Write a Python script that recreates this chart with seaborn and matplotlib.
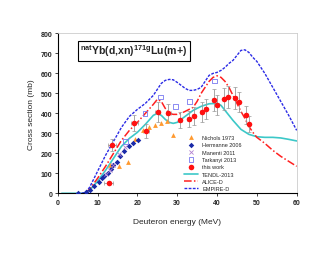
import numpy as np
import pandas as pd
import matplotlib
matplotlib.use("Agg")
import matplotlib.pyplot as plt
import seaborn as sns

# Experimentelle Daten
nich_e = [13.1, 15.5, 17.7, 19.5, 21.5, 23.0, 24.5, 26.0, 27.5, 29.0]
nich_s = [143, 135, 155, 270, 315, 330, 340, 350, 360, 290]

herm_e = [5.0, 7.1, 8.1, 9.1, 10.3, 11.0, 11.7, 12.5, 13.3, 14.0, 14.8, 15.6, 16.7, 17.8, 19.0, 20.1]
herm_s = [0, 5, 18, 37, 58, 75, 88, 103, 122, 143, 158, 185, 210, 238, 252, 268]

man_e = [12.0, 13.0, 14.0, 15.3, 16.8]
man_s = [95, 118, 140, 195, 232]

tark_e = [17.0, 21.9, 25.9, 29.6, 33.0, 39.3]
tark_s = [258, 398, 482, 433, 460, 562]

work_e = [12.8, 13.7, 19.2, 22.1, 25.1, 27.8, 30.7, 32.9, 34.1, 36.1, 37.2, 39.2, 40.1, 41.8, 42.8, 44.6, 45.5, 47.2, 48.1]
work_s = [53, 240, 350, 310, 408, 400, 367, 372, 385, 408, 420, 465, 442, 472, 482, 477, 455, 393, 348]
work_ds = [5, 30, 40, 35, 50, 45, 40, 40, 45, 50, 50, 55, 50, 55, 55, 55, 50, 45, 40]
work_de = [1.2, 1.0, 0.9, 0.8, 0.7, 0.6, 0.6, 0.5, 0.5, 0.5, 0.4, 0.4, 0.4, 0.3, 0.3, 0.3, 0.3, 0.3, 0.3]

# Modellrechnungen
tendl_e = [1, 6, 7, 8, 10, 12, 14, 16, 18, 20, 22, 24, 25, 26, 27, 28, 29, 30, 32, 34, 36, 38, 40, 41, 42, 44, 46, 48, 50, 52, 54, 56, 58, 60]
tendl_s = [0, 0, 3, 15, 60, 115, 175, 235, 275, 305, 345, 390, 400, 390, 370, 355, 350, 355, 385, 415, 435, 448, 450, 440, 415, 365, 320, 295, 283, 280, 280, 277, 270, 262]

alice_e = [7, 8, 10, 12, 14, 16, 18, 20, 22, 24, 25, 26, 27, 28, 29, 30, 31, 32, 34, 35, 36, 37, 38, 39, 40, 41, 42, 43, 44, 45, 46, 47, 48, 49, 50, 52, 54, 56, 58, 60]
alice_s = [3, 20, 75, 135, 200, 265, 315, 355, 400, 445, 470, 460, 425, 400, 395, 395, 400, 410, 430, 460, 500, 530, 560, 580, 588, 580, 560, 530, 490, 450, 410, 375, 335, 305, 280, 250, 215, 185, 160, 135]

emp_e = [6, 7, 8, 10, 12, 14, 16, 18, 20, 22, 24, 25, 26, 27, 28, 29, 30, 31, 32, 33, 34, 35, 36, 37, 38, 39, 40, 41, 42, 43, 44, 45, 46, 47, 48, 49, 50, 52, 54, 56, 58, 60]
emp_s = [0, 5, 30, 110, 190, 260, 330, 385, 420, 450, 490, 520, 550, 565, 570, 568, 555, 540, 525, 515, 515, 520, 530, 560, 590, 600, 605, 615, 630, 650, 665, 690, 715, 718, 705, 680, 660, 600, 530, 460, 390, 315]

sns.set_style("white")
plt.rcParams['font.family'] = ['Liberation Sans', 'DejaVu Sans']
plt.rcParams['mathtext.fontset'] = 'custom'
plt.rcParams['mathtext.rm'] = 'Liberation Sans:bold'

fig = plt.figure(figsize=(3.3, 2.55), dpi=100)
ax = fig.add_axes([0.175, 0.238, 0.724, 0.627])

sns.lineplot(x=tendl_e, y=tendl_s, ax=ax, color="#3cc8c8", lw=1.2, label="TENDL-2013")
sns.lineplot(x=alice_e, y=alice_s, ax=ax, color="#ff2020", lw=1.1, label="ALICE-D")
ax.lines[-1].set_dashes([5, 1.5, 1, 1.5])
sns.lineplot(x=emp_e, y=emp_s, ax=ax, color="#2a2ae6", lw=1.0, label="EMPIRE-D")
ax.lines[-1].set_dashes([2, 1])

ax.errorbar(work_e, work_s, yerr=work_ds, xerr=work_de, fmt="none",
            ecolor="#999999", elinewidth=0.6, capsize=1.2, capthick=0.5, zorder=3)

sns.scatterplot(x=nich_e, y=nich_s, ax=ax, marker="^", color="#ff9a30", s=12, linewidth=0, label="Nichols 1973", zorder=4)
sns.scatterplot(x=herm_e, y=herm_s, ax=ax, marker="D", color="#1a2aa8", s=8, linewidth=0, label="Hermanne 2006", zorder=4)
sns.scatterplot(x=man_e, y=man_s, ax=ax, marker="x", color="#b080d0", s=9, linewidth=0.6, label="Manenti 2011", zorder=4)
sns.scatterplot(x=tark_e, y=tark_s, ax=ax, marker="s", facecolor="none", edgecolor="#7878f0", s=12, linewidth=0.6, label="Tarkanyi 2013", zorder=4)
sns.scatterplot(x=work_e, y=work_s, ax=ax, marker="o", color="#ff1010", s=16, linewidth=0, label="this work", zorder=5)

ax.set_xlim(0, 60)
ax.set_ylim(0, 800)
ax.set_xticks(np.arange(0, 61, 10))
ax.set_yticks(np.arange(0, 801, 100))
ax.tick_params(labelsize=5, length=2, width=0.6, pad=2, direction="out", bottom=True, left=True)
for lbl in ax.get_xticklabels() + ax.get_yticklabels():
    lbl.set_fontweight("bold")

for s in ["left", "bottom"]:
    ax.spines[s].set_color("black")
    ax.spines[s].set_linewidth(0.8)
for s in ["top", "right"]:
    ax.spines[s].set_color("#cccccc")
    ax.spines[s].set_linewidth(0.6)

ax.set_xlabel("Deuteron energy (MeV)", fontsize=6, labelpad=9)
ax.set_ylabel("Cross section (mb)", fontsize=6, labelpad=4)

ax.text(0.319, 0.893, r"$^{\mathrm{nat}}$Yb(d,xn)$^{\mathrm{171g}}$Lu(m+)", transform=ax.transAxes,
        ha="center", va="center", fontsize=7.6, fontweight="bold",
        bbox=dict(boxstyle="square,pad=0.2", fc="white", ec="black", lw=0.8))

handles, labels = ax.get_legend_handles_labels()
order = ["Nichols 1973", "Hermanne 2006", "Manenti 2011", "Tarkanyi 2013", "this work",
         "TENDL-2013", "ALICE-D", "EMPIRE-D"]
hmap = dict(zip(labels, handles))
ax.legend([hmap[k] for k in order], order, loc="upper left", bbox_to_anchor=(0.53, 0.365),
          frameon=False, fontsize=4, handlelength=2.4, labelspacing=0.42, borderaxespad=0,
          borderpad=0, handletextpad=0.8)

fig.savefig("out.png", dpi=100)
